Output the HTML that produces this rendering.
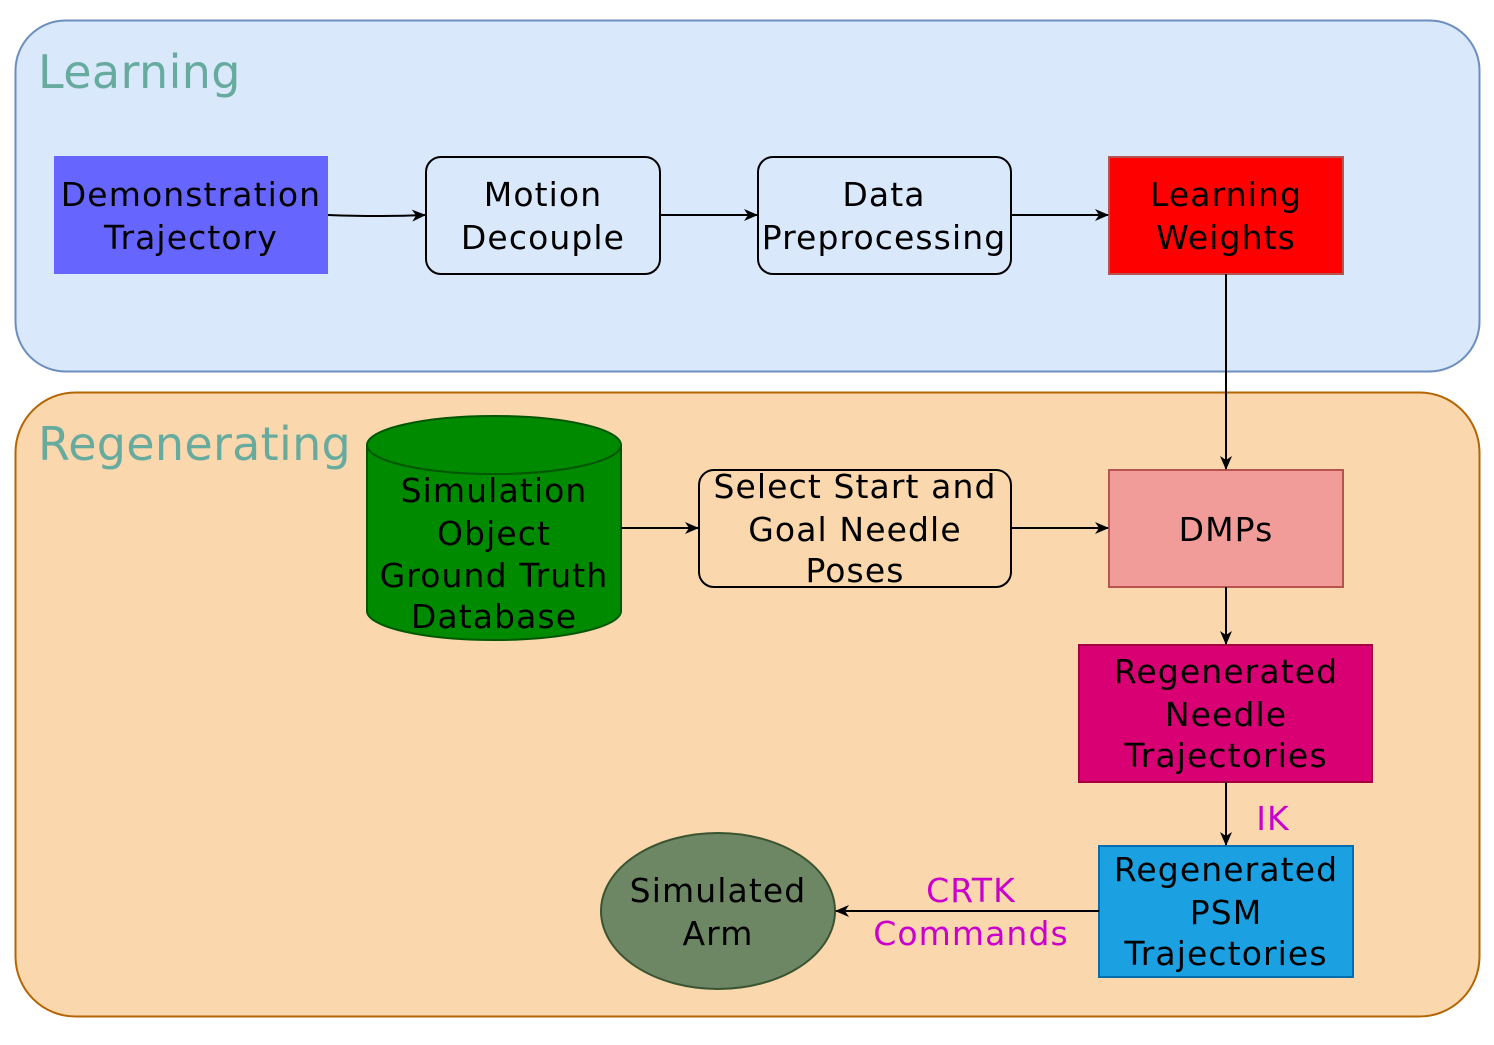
<!DOCTYPE html>
<html><head><meta charset="utf-8"><style>html,body{margin:0;padding:0;background:#fff}svg{display:block}text{font-family:"DejaVu Sans","Liberation Sans",sans-serif}</style></head>
<body>
<svg width="1494" height="1045" viewBox="0 0 1494 1045" xmlns="http://www.w3.org/2000/svg">
<defs><marker id="a" markerWidth="14" markerHeight="14" refX="13" refY="7" orient="auto" markerUnits="userSpaceOnUse"><path d="M0,1 L14,7 L0,13 L4,7 Z" fill="#000"/></marker></defs>
<rect x="15.5" y="20.5" width="1464" height="351" rx="50" fill="#dae8fc" stroke="#6c8ebf" stroke-width="2"/>
<text x="38" y="88" font-size="46" letter-spacing="0.4" fill="#67AB9F">Learning</text>
<rect x="15.5" y="392.5" width="1464" height="624" rx="60" fill="#fad7ac" stroke="#b46504" stroke-width="2"/>
<text x="38" y="460" font-size="46" letter-spacing="0.3" fill="#67AB9F">Regenerating</text>
<g font-size="33" letter-spacing="1.1" text-anchor="middle" fill="#000">
<rect x="54" y="156" width="274" height="118" fill="#6666ff"/>
<text x="191" y="206">Demonstration</text><text x="191" y="249">Trajectory</text>
<rect x="426" y="157" width="234" height="117" rx="15" fill="none" stroke="#000" stroke-width="2"/>
<text x="543" y="206">Motion</text><text x="543" y="249">Decouple</text>
<rect x="758" y="157" width="253" height="117" rx="15" fill="none" stroke="#000" stroke-width="2"/>
<text x="884" y="206">Data</text><text x="884" y="249">Preprocessing</text>
<rect x="1109" y="157" width="234" height="117" fill="#ff0000" stroke="#b85450" stroke-width="2"/>
<text x="1226" y="206">Learning</text><text x="1226" y="249">Weights</text>
<path d="M367,445 L367,611 A127,29 0 0 0 621,611 L621,445" fill="#008a00" stroke="#005700" stroke-width="2"/>
<ellipse cx="494" cy="445" rx="127" ry="29" fill="#008a00" stroke="#005700" stroke-width="2"/>
<text x="494" y="502">Simulation</text><text x="494" y="545">Object</text><text x="494" y="587">Ground Truth</text><text x="494" y="628">Database</text>
<rect x="699" y="470" width="312" height="117" rx="15" fill="none" stroke="#000" stroke-width="2"/>
<text x="855" y="498">Select Start and</text><text x="855" y="541">Goal Needle</text><text x="855" y="582">Poses</text>
<rect x="1109" y="470" width="234" height="117" fill="#f19c99" stroke="#b85450" stroke-width="2"/>
<text x="1226" y="541">DMPs</text>
<rect x="1079" y="645" width="293" height="137" fill="#d80073" stroke="#a50040" stroke-width="2"/>
<text x="1226" y="683">Regenerated</text><text x="1226" y="726">Needle</text><text x="1226" y="767">Trajectories</text>
<rect x="1099" y="846" width="254" height="131" fill="#1ba1e2" stroke="#006eaf" stroke-width="2"/>
<text x="1226" y="881">Regenerated</text><text x="1226" y="924">PSM</text><text x="1226" y="965">Trajectories</text>
<ellipse cx="718" cy="911" rx="117" ry="78" fill="#6d8764" stroke="#3a5431" stroke-width="2"/>
<text x="718" y="902">Simulated</text><text x="718" y="945">Arm</text>
<text x="1273" y="830" fill="#cc00cc">IK</text>
<text x="971" y="902" fill="#cc00cc">CRTK</text><text x="971" y="945" fill="#cc00cc">Commands</text>
</g>
<g stroke="#000" stroke-width="2" fill="none" marker-end="url(#a)">
<path d="M328,215 Q380,217 425,215"/>
<path d="M660,215 L757,215"/>
<path d="M1011,215 L1108,215"/>
<path d="M1226,274 L1226,469"/>
<path d="M621,528 L698,528"/>
<path d="M1011,528 L1108,528"/>
<path d="M1226,587 L1226,644"/>
<path d="M1226,782 L1226,845"/>
<path d="M1099,911 L836,911"/>
</g>
</svg>
</body></html>
